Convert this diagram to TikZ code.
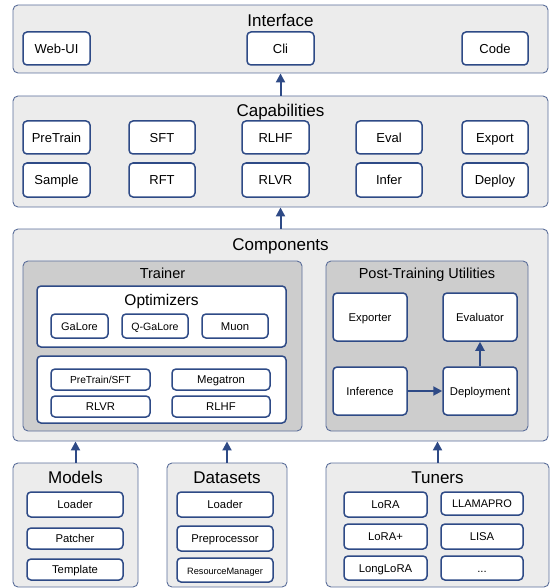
\documentclass[tikz,border=0pt]{standalone}
\usepackage{fontspec}
\setmainfont{Liberation Sans}
\usetikzlibrary{arrows.meta}
\definecolor{navy}{HTML}{2E4A86}
\definecolor{outerline}{HTML}{5B6E9A}
\definecolor{outerfill}{HTML}{ECECEC}
\definecolor{midfill}{HTML}{CDCDCD}
\tikzset{
  outerbox/.style={draw=outerline, line width=0.9pt, fill=outerfill, rounded corners=5pt, inner sep=0pt},
  midbox/.style={draw=outerline, line width=0.9pt, fill=midfill, rounded corners=5pt, inner sep=0pt},
  panel/.style={draw=navy, line width=1.5pt, fill=white, rounded corners=4pt, inner sep=0pt},
  item/.style={draw=navy, line width=1.5pt, fill=white, rounded corners=4pt, inner sep=0pt, font=\fontsize{13}{15}\selectfont, text height=9.3pt, text depth=0pt},
  smallitem/.style={item, font=\fontsize{11.3}{13}\selectfont, text height=8.1pt, text depth=0pt},
  title/.style={font=\fontsize{17}{20}\selectfont, inner sep=0pt, text height=12.2pt, text depth=0pt},
  subtitle/.style={font=\fontsize{14.5}{17}\selectfont, inner sep=0pt, text height=10.4pt, text depth=0pt},
  arr/.style={draw=navy, line width=2pt, -{Triangle[length=9pt,width=9pt]}}
}
\newcommand\bx[7]{\node[#6, minimum width={(#4-#2)*1pt}, minimum height={(#5-#3)*1pt}] (#1) at ({(#2+#4)/2},{(#3+#5)/2}) {#7};}
\begin{document}
\begin{tikzpicture}[x=1pt,y=-1pt]
\useasboundingbox (0,0) rectangle (559,588);
% Interface
\bx{iface}{13}{5}{548}{73}{outerbox}{}
\node[title] (tiface) at (280.5,20) {Interface};
\bx{webui}{23}{32}{90}{65}{item}{Web-UI}
\bx{cli}{247}{32}{314}{65}{item}{Cli}
\bx{code}{462}{32}{528}{65}{item}{Code}
% Capabilities
\bx{cap}{13}{96}{548}{207}{outerbox}{}
\node[title] (tcap) at (280.5,110) {Capabilities};
\bx{pretrain}{23}{121}{90}{154}{item}{PreTrain}
\bx{sft}{129}{121}{195}{154}{item}{SFT}
\bx{rlhf}{242}{121}{309}{154}{item}{RLHF}
\bx{eval}{356}{121}{422}{154}{item}{Eval}
\bx{export}{462}{121}{528}{154}{item}{Export}
\bx{sample}{23}{163}{90}{197}{item}{Sample}
\bx{rft}{129}{163}{195}{197}{item}{RFT}
\bx{rlvr}{242}{163}{309}{197}{item}{RLVR}
\bx{infer}{356}{163}{422}{197}{item}{Infer}
\bx{deploy}{462}{163}{528}{197}{item}{Deploy}
% Components
\bx{comp}{13}{229}{548}{441}{outerbox}{}
\node[title] (tcomp) at (280.5,244.5) {Components};
\bx{trainer}{23}{261}{302}{431}{midbox}{}
\node[subtitle] (ttrainer) at (162.5,273) {Trainer};
\bx{optim}{37}{286}{286}{347}{panel}{}
\node[font=\fontsize{15.5}{18}\selectfont, inner sep=0pt, text height=11.1pt, text depth=0pt] (toptim) at (161.5,299.5) {Optimizers};
\bx{galore}{51}{314}{108}{338}{smallitem}{\fontsize{11}{13}\selectfont GaLore}
\bx{qgalore}{122}{314}{188}{338}{smallitem}{\fontsize{10.6}{13}\selectfont Q-GaLore}
\bx{muon}{202}{314}{268}{338}{smallitem}{Muon}
\bx{algos}{37}{356}{286}{423}{panel}{}
\bx{ptsft}{51}{369}{150}{390}{smallitem}{\fontsize{10.2}{12}\selectfont PreTrain/SFT}
\bx{megatron}{172}{369}{270}{390}{smallitem}{Megatron}
\bx{trlvr}{51}{396}{150}{417}{smallitem}{RLVR}
\bx{trlhf}{172}{396}{270}{417}{smallitem}{RLHF}
\bx{post}{326}{261}{528}{431}{midbox}{}
\node[subtitle] (tpost) at (427,273) {Post-Training Utilities};
\bx{exporter}{333}{293}{407}{341}{smallitem}{Exporter}
\bx{evaluator}{443}{293}{517}{341}{smallitem}{Evaluator}
\bx{inference}{333}{367}{407}{415}{smallitem}{Inference}
\bx{deployment}{443}{367}{517}{415}{smallitem}{Deployment}
% Bottom
\bx{models}{13}{463}{138}{587}{outerbox}{}
\node[title] (tmodels) at (75.5,477.5) {Models};
\bx{mloader}{27}{492}{123}{517}{smallitem}{Loader}
\bx{patcher}{27}{528}{123}{549}{smallitem}{Patcher}
\bx{template}{27}{559}{123}{580}{smallitem}{Template}
\bx{datasets}{167}{463}{287}{587}{outerbox}{}
\node[title] (tdatasets) at (227,477.5) {Datasets};
\bx{dloader}{177}{492}{273}{517}{smallitem}{Loader}
\bx{preproc}{177}{526}{273}{551}{smallitem}{Preprocessor}
\bx{resman}{177}{558}{273}{582}{smallitem}{\fontsize{9.2}{11}\selectfont ResourceManager}
\bx{tuners}{326}{463}{549}{587}{outerbox}{}
\node[title] (ttuners) at (437.5,477.5) {Tuners};
\bx{lora}{344}{492}{427}{517}{smallitem}{LoRA}
\bx{llamapro}{441}{492}{523}{515}{smallitem}{\fontsize{11}{13}\selectfont LLAMAPRO}
\bx{loraplus}{344}{524}{427}{549}{smallitem}{LoRA+}
\bx{lisa}{441}{524}{523}{549}{smallitem}{LISA}
\bx{longlora}{344}{556}{427}{580}{smallitem}{LongLoRA}
\bx{more}{441}{556}{523}{580}{smallitem}{...}
% Arrows
\draw[arr] (cap.north) -- (iface.south);
\draw[arr] (comp.north) -- (cap.south);
\draw[arr] (models.north) -- (models.north |- comp.south);
\draw[arr] (datasets.north) -- (datasets.north |- comp.south);
\draw[arr] (tuners.north) -- (tuners.north |- comp.south);
\draw[arr] (inference.east) -- (deployment.west);
\draw[arr] (deployment.north) -- (evaluator.south);
\end{tikzpicture}
\end{document}
